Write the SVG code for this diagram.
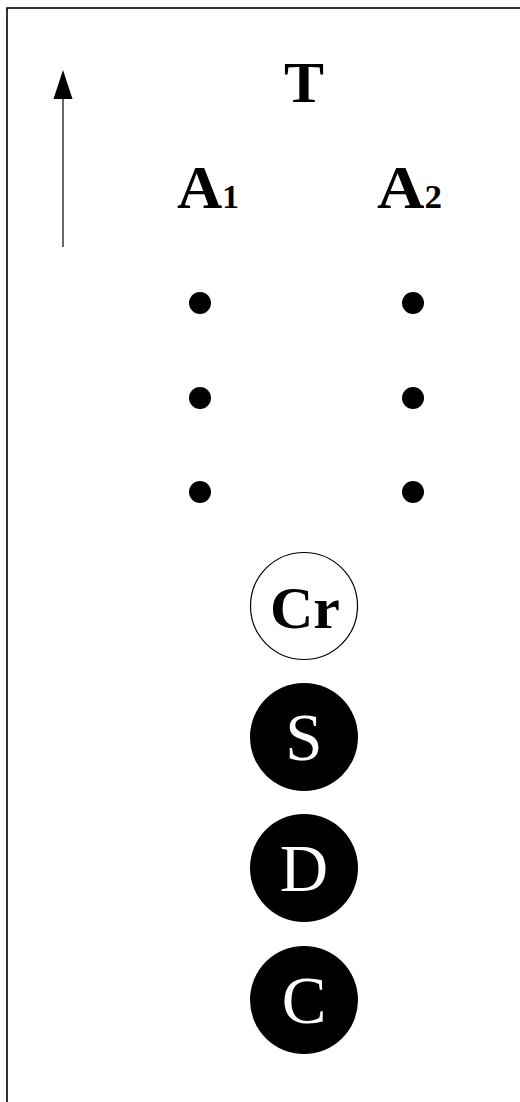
<svg xmlns="http://www.w3.org/2000/svg" width="520" height="1102" viewBox="0 0 520 1102">
<style>
.lbl{font-family:"Liberation Serif","DejaVu Serif",serif;font-weight:bold;fill:#000}
.wl{font-family:"Liberation Serif","DejaVu Serif",serif;fill:#fff;text-anchor:middle}
.dot{fill:#000}
</style>
<rect x="0" y="0" width="520" height="1102" fill="#fff"/>
<rect x="7" y="8" width="700" height="1300" fill="none" stroke="#000" stroke-width="1.6"/>
<g id="connectors">
<line x1="63" y1="247" x2="63" y2="99" stroke="#000" stroke-width="1.2"/>
<path d="M63,70 L72.5,99 L53.5,99 z" fill="#000"/>
</g>
<g id="T"><text class="lbl" x="304" y="102" font-size="58" text-anchor="middle" textLength="40" lengthAdjust="spacingAndGlyphs">T</text></g>
<g id="A1"><text class="lbl" x="177" y="208" font-size="62" textLength="62" lengthAdjust="spacingAndGlyphs">A<tspan font-size="33">1</tspan></text></g>
<g id="A2"><text class="lbl" x="377" y="208" font-size="62" textLength="65" lengthAdjust="spacingAndGlyphs">A<tspan font-size="33">2</tspan></text></g>
<g id="dots">
<circle class="dot" cx="200" cy="303" r="11"/>
<circle class="dot" cx="200" cy="398" r="11"/>
<circle class="dot" cx="200" cy="492" r="11"/>
<circle class="dot" cx="413" cy="303" r="11"/>
<circle class="dot" cx="413" cy="398" r="11"/>
<circle class="dot" cx="413" cy="492" r="11"/>
</g>
<g id="Cr">
<circle cx="304" cy="606" r="53.5" fill="#fff" stroke="#000" stroke-width="1.2"/>
<text class="lbl" x="305" y="628" font-size="60" text-anchor="middle">Cr</text>
</g>
<g id="S">
<circle cx="304" cy="737" r="54" fill="#000"/>
<text class="wl" x="304" y="760" font-size="67">S</text>
</g>
<g id="D">
<circle cx="304" cy="868" r="54" fill="#000"/>
<text class="wl" x="304" y="891" font-size="67">D</text>
</g>
<g id="C">
<circle cx="304" cy="1000" r="54" fill="#000"/>
<text class="wl" x="304" y="1023" font-size="67">C</text>
</g>
</svg>
